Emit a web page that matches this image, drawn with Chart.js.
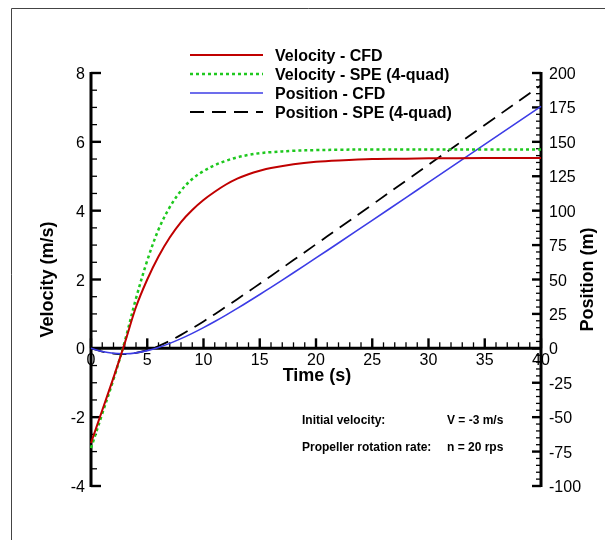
<!DOCTYPE html>
<html>
<head>
<meta charset="utf-8">
<script src="https://cdn.jsdelivr.net/npm/chart.js@4.4.1/dist/chart.umd.min.js"></script>
<style>
  html, body { margin: 0; padding: 0; background: #fff; }
  canvas { display: block; }
</style>
</head>
<body>
<canvas id="c" width="605" height="540"></canvas>
<script>
// ---- data ----
const time = [0,1,2,3,4,5,6,7,8,9,10,11,12,13,14,15,16,18,20,22,25,28,30,35,40];
const velocityCFD = [-2.75,-1.8,-0.85,0.15,1.2,2.0,2.67,3.22,3.67,4.02,4.31,4.55,4.76,4.93,5.06,5.16,5.24,5.35,5.42,5.46,5.5,5.51,5.52,5.53,5.53];
const velocitySPE = [-2.9,-1.9,-0.9,0.2,1.45,2.55,3.45,4.1,4.58,4.92,5.15,5.32,5.45,5.55,5.62,5.67,5.7,5.74,5.76,5.77,5.78,5.78,5.78,5.78,5.78];
const positionCFD = [0,-2.28,-3.6,-3.95,-3.28,-1.68,0.65,3.6,7.04,10.88,15.05,19.48,24.14,28.99,33.99,39.1,44.3,54.89,65.66,76.54,92.98,109.5,120.53,148.15,175.8];
const positionSPE = [0,-2.4,-3.8,-4.15,-3.33,-1.33,1.67,5.45,9.79,14.54,19.57,24.8,30.2,35.7,41.3,46.9,52.6,64.1,75.6,87.1,104.4,121.8,133.3,162.2,191.1];

const timeTicks = [0,5,10,15,20,25,30,35,40];
const velocityTicks = [-4,-2,0,2,4,6,8];
const positionTicks = [-100,-75,-50,-25,0,25,50,75,100,125,150,175,200];

const seriesLabels = ['Velocity - CFD','Velocity - SPE (4-quad)','Position - CFD','Position - SPE (4-quad)'];
const xTitle = 'Time (s)';
const yLeftTitle = 'Velocity (m/s)';
const yRightTitle = 'Position (m)';
const noteLabels = ['Initial velocity:', 'Propeller rotation rate:'];
const noteValues = ['V = -3 m/s', 'n = 20 rps'];

const FONT = '"Liberation Sans", Arial, Helvetica, sans-serif';
const pts = arr => time.map((t, i) => ({ x: t, y: arr[i] }));

const customPlugin = {
  id: 'custom',
  beforeDatasetsDraw(chart) {
    const ctx = chart.ctx;
    const xs = chart.scales.x, yv = chart.scales.yV, yp = chart.scales.yP;
    ctx.save();
    ctx.strokeStyle = '#000';
    ctx.fillStyle = '#000';
    ctx.lineCap = 'butt';
    const y0 = yv.getPixelForValue(0);
    const xL = xs.getPixelForValue(0), xR = xs.getPixelForValue(40);

    // left axis
    ctx.lineWidth = 3;
    ctx.beginPath();
    ctx.moveTo(xL, yv.getPixelForValue(8) - 1);
    ctx.lineTo(xL, yv.getPixelForValue(-4) + 1);
    ctx.stroke();
    for (let v = -4; v <= 8.001; v += 0.5) {
      const y = yv.getPixelForValue(v);
      const major = Math.abs(v / 2 - Math.round(v / 2)) < 1e-6;
      ctx.lineWidth = major ? 2.4 : 1.3;
      ctx.beginPath();
      ctx.moveTo(xL, y);
      ctx.lineTo(xL + (major ? 10 : 6), y);
      ctx.stroke();
    }
    ctx.font = '16px ' + FONT;
    ctx.textAlign = 'right';
    ctx.textBaseline = 'alphabetic';
    velocityTicks.forEach(v => {
      ctx.fillText(String(v), xL - 6, yv.getPixelForValue(v) + 6);
    });

    // right axis
    ctx.lineWidth = 3;
    ctx.beginPath();
    ctx.moveTo(xR, yp.getPixelForValue(200) - 1);
    ctx.lineTo(xR, yp.getPixelForValue(-100) + 1);
    ctx.stroke();
    for (let p = -100; p <= 200; p += 5) {
      const y = yp.getPixelForValue(p);
      const major = p % 25 === 0;
      ctx.lineWidth = major ? 2.4 : 1.3;
      ctx.beginPath();
      ctx.moveTo(xR, y);
      ctx.lineTo(xR - (major ? 9 : 5), y);
      ctx.stroke();
    }
    ctx.textAlign = 'left';
    positionTicks.forEach(p => {
      ctx.fillText(String(p), xR + 8, yp.getPixelForValue(p) + 6);
    });

    // x axis at velocity = 0
    ctx.lineWidth = 3;
    ctx.beginPath();
    ctx.moveTo(xL, y0);
    ctx.lineTo(xR, y0);
    ctx.stroke();
    for (let t = 0; t <= 40; t += 1) {
      const x = xs.getPixelForValue(t);
      const major = t % 5 === 0;
      ctx.lineWidth = major ? 2.4 : 1.3;
      ctx.beginPath();
      ctx.moveTo(x, y0);
      ctx.lineTo(x, y0 - (major ? 10 : 6));
      ctx.stroke();
    }
    ctx.textAlign = 'center';
    timeTicks.forEach(t => {
      ctx.fillText(String(t), xs.getPixelForValue(t), y0 + 17);
    });

    // axis titles
    ctx.font = 'bold 18px ' + FONT;
    ctx.textAlign = 'center';
    ctx.fillText(xTitle, (xL + xR) / 2 + 1, y0 + 33);
    const yMid = (yv.getPixelForValue(8) + yv.getPixelForValue(-4)) / 2;
    ctx.save();
    ctx.translate(53, yMid);
    ctx.rotate(-Math.PI / 2);
    ctx.fillText(yLeftTitle, 0, 0);
    ctx.restore();
    ctx.save();
    ctx.translate(593, yMid);
    ctx.rotate(-Math.PI / 2);
    ctx.fillText(yRightTitle, 0, 0);
    ctx.restore();
    ctx.restore();
  },
  afterDatasetsDraw(chart) {
    const ctx = chart.ctx;
    ctx.save();
    // legend
    const rows = [55, 74, 93, 112];
    chart.data.datasets.forEach((ds, i) => {
      const y = rows[i];
      ctx.strokeStyle = ds.borderColor;
      ctx.lineWidth = ds.borderWidth;
      ctx.setLineDash(ds.borderDash || []);
      ctx.beginPath();
      ctx.moveTo(190, y);
      ctx.lineTo(263, y);
      ctx.stroke();
      ctx.setLineDash([]);
      ctx.fillStyle = '#000';
      ctx.font = 'bold 16px ' + FONT;
      ctx.textAlign = 'left';
      ctx.textBaseline = 'alphabetic';
      ctx.fillText(ds.label, 275, y + 6);
    });
    // notes
    ctx.font = 'bold 12px ' + FONT;
    ctx.fillStyle = '#000';
    const noteY = [424, 450.5];
    noteLabels.forEach((s, i) => ctx.fillText(s, 302, noteY[i]));
    noteValues.forEach((s, i) => ctx.fillText(s, 447, noteY[i]));
    // frame
    ctx.strokeStyle = '#444';
    ctx.lineWidth = 1;
    ctx.beginPath();
    ctx.moveTo(11.5, 540);
    ctx.lineTo(11.5, 8.5);
    ctx.lineTo(605, 8.5);
    ctx.stroke();
    ctx.restore();
  }
};

const common = { pointRadius: 0, tension: 0.35, clip: false };

new Chart(document.getElementById('c'), {
  type: 'line',
  data: {
    datasets: [
      Object.assign({ label: seriesLabels[0], data: pts(velocityCFD), yAxisID: 'yV', borderColor: '#c00000', borderWidth: 2 }, common),
      Object.assign({ label: seriesLabels[1], data: pts(velocitySPE), yAxisID: 'yV', borderColor: '#1ec81e', borderWidth: 2.5, borderDash: [3, 3] }, common),
      Object.assign({ label: seriesLabels[2], data: pts(positionCFD), yAxisID: 'yP', borderColor: '#3c3ce6', borderWidth: 1.6 }, common),
      Object.assign({ label: seriesLabels[3], data: pts(positionSPE), yAxisID: 'yP', borderColor: '#000000', borderWidth: 1.8, borderDash: [14, 8] }, common)
    ]
  },
  options: {
    responsive: false,
    animation: false,
    devicePixelRatio: 1,
    layout: { padding: { left: 91, right: 64, top: 73, bottom: 54 } },
    plugins: { legend: { display: false }, tooltip: { enabled: false }, title: { display: false } },
    scales: {
      x: { type: 'linear', min: 0, max: 40, display: false },
      yV: { type: 'linear', position: 'left', min: -4, max: 8, display: false },
      yP: { type: 'linear', position: 'right', min: -100, max: 200, display: false }
    }
  },
  plugins: [customPlugin]
});
</script>
</body>
</html>
